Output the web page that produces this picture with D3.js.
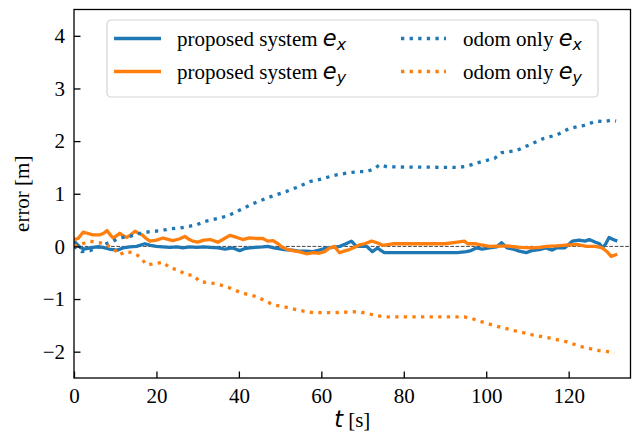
<!DOCTYPE html>
<html>
<head>
<meta charset="utf-8">
<script src="https://cdn.jsdelivr.net/npm/d3@7"></script>
<style>
  body { margin: 0; background: #fff; }
  svg { display: block; }
</style>
</head>
<body>
<div id="chart"></div>
<script>
// [t, value] pairs
const proposedX = [[0,0.1],[1.5,-0.02],[2.5,-0.05],[3.9,-0.03],[5.5,-0.01],[7,-0.02],[8.5,-0.05],[9.5,-0.06],[10.5,-0.07],[11.9,-0.03],[13.5,-0.01],[15.2,0],[17.2,0.05],[18.5,0.02],[20,0],[21.5,-0.01],[23.3,-0.02],[25,-0.01],[26.4,-0.03],[28,-0.01],[29.8,-0.02],[31.5,-0.01],[33,-0.02],[35,-0.03],[36.6,-0.05],[38.5,-0.03],[40.2,-0.08],[41.5,-0.04],[42.6,-0.03],[44,-0.02],[45.8,-0.01],[47,0],[48.5,-0.03],[51,-0.06],[53,-0.07],[54.5,-0.09],[56.4,-0.09],[58,-0.1],[59.5,-0.07],[61.2,-0.03],[63,-0.02],[64.5,0],[66,0.05],[67.3,0.1],[68.5,0],[71,0],[72.4,-0.1],[73.6,-0.03],[74.5,-0.08],[75.3,-0.12],[77,-0.12],[93,-0.12],[95.2,-0.1],[96.3,-0.08],[97.6,-0.03],[99,-0.05],[100.8,-0.03],[102.5,-0.01],[103.7,0.07],[105.1,-0.03],[106.5,-0.05],[108,-0.09],[109.7,-0.12],[111,-0.08],[112.9,-0.06],[114.5,-0.03],[116,-0.07],[117,-0.03],[119,-0.03],[120.2,0.05],[120.9,0.1],[122.5,0.12],[124,0.1],[125,0.13],[126.5,0.08],[127.5,0.05],[128.2,-0.03],[129,0.05],[129.8,0.17],[130.8,0.13],[131.8,0.1]];

const proposedY = [[0,0.13],[1,0.15],[2.2,0.27],[3.2,0.25],[4.6,0.22],[6.3,0.22],[7.2,0.25],[8,0.3],[9,0.2],[9.5,0.16],[10.3,0.2],[11.1,0.25],[12,0.2],[12.8,0.17],[13.8,0.22],[14.8,0.29],[15.6,0.25],[16.5,0.22],[17.5,0.15],[18.4,0.1],[20,0.12],[21.6,0.16],[23,0.13],[24,0.11],[25.5,0.14],[26.9,0.19],[28,0.13],[28.8,0.1],[30,0.08],[31.5,0.12],[33,0.13],[34.9,0.08],[36.3,0.14],[37.8,0.21],[39.5,0.17],[41,0.13],[42.5,0.16],[44.3,0.15],[45.8,0.15],[47,0.1],[48.3,0.11],[49.5,0.05],[50.6,-0.02],[52,-0.06],[53,-0.08],[54.5,-0.1],[56.4,-0.14],[58,-0.12],[59.5,-0.13],[60.8,-0.1],[62,-0.03],[63.2,0],[64.4,-0.12],[65.5,-0.09],[66.8,-0.06],[68,-0.02],[69.3,0.03],[70.5,0.05],[72.2,0.1],[73.5,0.07],[74.9,0.02],[77.3,0.05],[90,0.05],[93,0.08],[94.7,0.1],[95.5,0.05],[97.5,0.05],[100.8,0],[105,0.01],[108,-0.02],[111.2,-0.03],[113,-0.02],[114.6,0],[117,0.01],[120.2,0.03],[122,0.04],[124.3,0],[126.5,0],[128.2,-0.03],[129.3,-0.1],[130.3,-0.19],[131.8,-0.15]];

const odomX = [[0,0],[1.9,-0.1],[3.9,-0.08],[5.5,-0.03],[6.8,0.02],[9.5,0.1],[11.1,0.16],[13.6,0.19],[15.5,0.24],[17.2,0.27],[21.3,0.3],[23,0.33],[25.7,0.35],[29.8,0.41],[31.5,0.47],[33.7,0.51],[37.3,0.58],[40,0.68],[43.4,0.81],[47.2,0.93],[51.4,1.04],[54,1.12],[57.2,1.23],[60,1.28],[63.2,1.35],[66,1.39],[68.8,1.42],[71,1.42],[73,1.48],[74.1,1.55],[76,1.51],[93,1.5],[95.2,1.52],[98.8,1.61],[102,1.67],[103.7,1.78],[107.3,1.82],[110.5,1.93],[113.9,2.05],[117.2,2.12],[120.2,2.24],[123.8,2.3],[126.7,2.38],[128.5,2.37],[130.5,2.4],[131.5,2.38]];

const odomY = [[0,0],[2,0.05],[3.9,0.1],[5,0.08],[6.3,0.07],[7.5,0.04],[9.5,-0.03],[11,-0.16],[12.5,-0.1],[14.4,-0.12],[16,-0.2],[17.6,-0.35],[19.5,-0.33],[21.6,-0.3],[23.3,-0.41],[25,-0.44],[27.3,-0.54],[29,-0.55],[30.5,-0.67],[33,-0.69],[35.4,-0.73],[37.5,-0.78],[40.2,-0.87],[42,-0.91],[44.2,-0.95],[46,-1.02],[48.3,-1.11],[50,-1.13],[52.3,-1.17],[55,-1.22],[58,-1.26],[62.7,-1.26],[66,-1.25],[68.8,-1.24],[71,-1.27],[73.6,-1.32],[76,-1.34],[94.7,-1.34],[96.5,-1.37],[98.8,-1.43],[102.7,-1.52],[106.8,-1.6],[111.2,-1.68],[115.3,-1.74],[119.4,-1.81],[123.3,-1.91],[127.4,-1.98],[129.5,-2],[131.1,-2.03]];

const xTicks = [0, 20, 40, 60, 80, 100, 120];
const yTicks = [-2, -1, 0, 1, 2, 3, 4];

const blue = "#1f77b4", orange = "#ff7f0e";
const series = [
  {data: proposedX, color: blue, dotted: false, label: "proposed system ", sub: "x"},
  {data: proposedY, color: orange, dotted: false, label: "proposed system ", sub: "y"},
  {data: odomX, color: blue, dotted: true, label: "odom only ", sub: "x"},
  {data: odomY, color: orange, dotted: true, label: "odom only ", sub: "y"}
];

const W = 641, H = 435;
const margin = {top: 9.5, right: 10.5, bottom: 57, left: 74};
const width = W - margin.left - margin.right,
      height = H - margin.top - margin.bottom;
const serif = "'Liberation Serif', 'Times New Roman', serif";
const mathFont = "'DejaVu Sans', sans-serif";
const fs = 21;
const mfs = 22.5; // mathtext glyphs come out a bit larger
const dots = "3.3,5.3";

const svg = d3.select("#chart").append("svg")
  .attr("width", W).attr("height", H);
const g = svg.append("g").attr("transform", `translate(${margin.left},${margin.top})`);

const x = d3.scaleLinear().domain([0, 135]).range([0, width]);
const y = d3.scaleLinear().domain([-2.5, 4.5]).range([height, 0]);

g.append("defs").append("clipPath").attr("id", "clip")
  .append("rect").attr("width", width).attr("height", height);

// zero reference line
g.append("line")
  .attr("x1", 0).attr("x2", width)
  .attr("y1", y(0)).attr("y2", y(0))
  .attr("stroke", "#444").attr("stroke-width", 1)
  .attr("stroke-dasharray", "3.7,1.6");

const line = d3.line().x(d => x(d[0])).y(d => y(d[1]));

g.append("g").attr("clip-path", "url(#clip)")
  .selectAll("path")
  .data(series)
  .join("path")
  .attr("d", d => line(d.data))
  .attr("fill", "none")
  .attr("stroke", d => d.color)
  .attr("stroke-width", 3.3)
  .attr("stroke-linejoin", "round")
  .attr("stroke-dasharray", d => d.dotted ? dots : null);

// axes, ticks pointing inward
const xAxis = g.append("g").attr("transform", `translate(0,${height})`)
  .call(d3.axisBottom(x).tickValues(xTicks).tickSize(-6.5).tickPadding(10).tickFormat(d3.format("d")));
const yAxis = g.append("g")
  .call(d3.axisLeft(y).tickValues(yTicks).tickSize(-6.5).tickPadding(9)
    .tickFormat(d => d < 0 ? "\u2212" + Math.abs(d) : d));
[xAxis, yAxis].forEach(a => {
  a.attr("font-family", serif).attr("font-size", fs);
  a.select(".domain").remove();
  a.selectAll(".tick line").attr("stroke", "#000").attr("stroke-width", 1.3);
  a.selectAll(".tick text").attr("fill", "#000");
});

// frame
g.append("rect").attr("width", width).attr("height", height)
  .attr("fill", "none").attr("stroke", "#000").attr("stroke-width", 1.3);

// axis labels
const xl = svg.append("text")
  .attr("x", margin.left + width / 2).attr("y", 427)
  .attr("text-anchor", "middle").attr("font-size", fs).attr("font-family", serif);
xl.append("tspan").attr("font-family", mathFont).attr("font-style", "italic")
  .attr("font-size", mfs).text("t");
xl.append("tspan").text(" [s]");

svg.append("text")
  .attr("transform", `translate(29,${margin.top + y(1)}) rotate(-90)`)
  .attr("text-anchor", "middle").attr("font-size", fs).attr("font-family", serif)
  .text("error [m]");

// legend
const leg = g.append("g").attr("transform", `translate(${107 - margin.left},${20 - margin.top})`);
leg.append("rect").attr("width", 491).attr("height", 77).attr("rx", 4)
  .attr("fill", "#fff").attr("fill-opacity", 0.8)
  .attr("stroke", "#d4d4d4").attr("stroke-width", 1.2);

const items = leg.selectAll("g.item").data(series).join("g")
  .attr("transform", (d, i) => `translate(${i < 2 ? 7 : 294},${i % 2 === 0 ? 18.5 : 51.5})`);
items.append("line")
  .attr("x1", 0).attr("x2", d => d.dotted ? 45 : 47)
  .attr("stroke", d => d.color).attr("stroke-width", 3.3)
  .attr("stroke-dasharray", d => d.dotted ? dots : null);
const lt = items.append("text")
  .attr("x", d => d.dotted ? 62 : 63).attr("y", 7)
  .attr("font-family", serif).attr("font-size", fs);
lt.append("tspan").text(d => d.label);
lt.append("tspan").attr("font-family", mathFont).attr("font-style", "italic")
  .attr("font-size", mfs).text("e");
lt.append("tspan").attr("font-family", mathFont).attr("font-style", "italic")
  .attr("font-size", mfs * 0.7).attr("dy", 4).text(d => d.sub);
</script>
</body>
</html>
